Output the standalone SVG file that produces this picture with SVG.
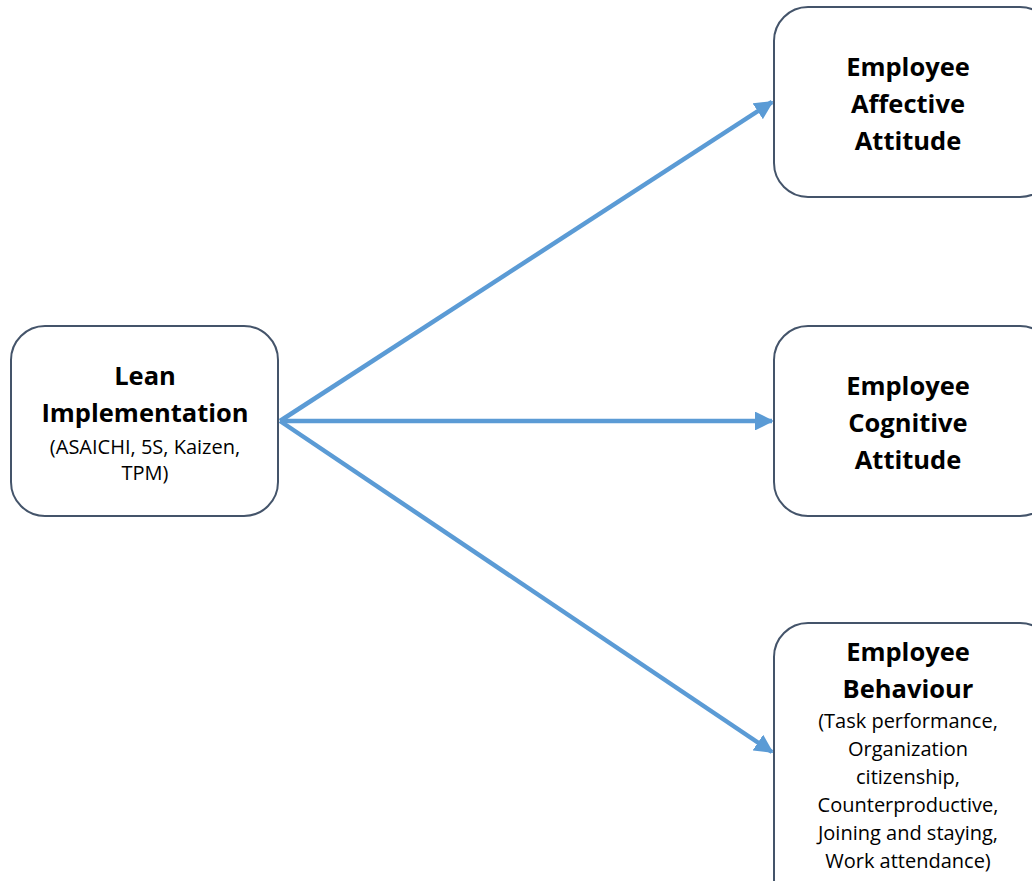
<svg xmlns="http://www.w3.org/2000/svg" width="1032" height="881" viewBox="0 0 1032 881">
  <style>
    .box { fill: #ffffff; stroke: #44546a; stroke-width: 2; }
    .link { stroke: #5b9bd5; stroke-width: 4.5; fill: none; }
    .title { font-family: "Open Sans", "Liberation Sans", sans-serif; font-weight: bold; font-size: 25.5px; fill: #000; text-anchor: middle; }
    .sub { font-family: "Open Sans", "Liberation Sans", sans-serif; font-size: 20px; fill: #000; text-anchor: middle; }
  </style>
  <defs>
    <marker id="arrow" viewBox="0 0 10 10" refX="9" refY="5" markerWidth="4.2" markerHeight="4.2" orient="auto" markerUnits="strokeWidth">
      <path d="M0,0 L10,5 L0,10 z" fill="#5b9bd5"/>
    </marker>
  </defs>
  <rect width="1032" height="881" fill="#ffffff"/>

  <g id="connectors">
    <line class="link" x1="280" y1="421" x2="772" y2="102" marker-end="url(#arrow)"/>
    <line class="link" x1="280" y1="421" x2="772" y2="421" marker-end="url(#arrow)"/>
    <line class="link" x1="280" y1="421" x2="772" y2="752" marker-end="url(#arrow)"/>
  </g>

  <g id="lean">
    <rect class="box" x="11" y="326" width="267" height="190" rx="34"/>
    <text class="title" x="145" y="385">Lean</text>
    <text class="title" x="145" y="422">Implementation</text>
    <text class="sub" x="145" y="454">(ASAICHI, 5S, Kaizen,</text>
    <text class="sub" x="145" y="480">TPM)</text>
  </g>

  <g id="affective">
    <rect class="box" x="774" y="7" width="280" height="190" rx="34"/>
    <text class="title" x="908" y="76">Employee</text>
    <text class="title" x="908" y="113">Affective</text>
    <text class="title" x="908" y="150">Attitude</text>
  </g>

  <g id="cognitive">
    <rect class="box" x="774" y="326" width="280" height="190" rx="34"/>
    <text class="title" x="908" y="395">Employee</text>
    <text class="title" x="908" y="432">Cognitive</text>
    <text class="title" x="908" y="469">Attitude</text>
  </g>

  <g id="behaviour">
    <rect class="box" x="774" y="623" width="280" height="290" rx="34"/>
    <text class="title" x="908" y="661">Employee</text>
    <text class="title" x="908" y="698">Behaviour</text>
    <text class="sub" x="908" y="728">(Task performance,</text>
    <text class="sub" x="908" y="756">Organization</text>
    <text class="sub" x="908" y="784">citizenship,</text>
    <text class="sub" x="908" y="812">Counterproductive,</text>
    <text class="sub" x="908" y="840">Joining and staying,</text>
    <text class="sub" x="908" y="868">Work attendance)</text>
  </g>
</svg>
